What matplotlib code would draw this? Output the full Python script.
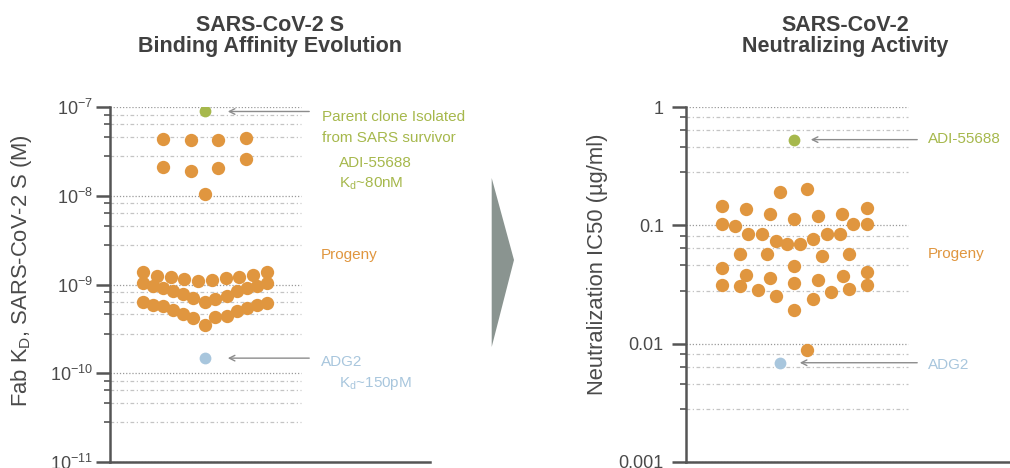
import matplotlib.pyplot as plt
import matplotlib.patches as patches
import matplotlib.ticker as ticker

plt.rcParams['font.family'] = 'Liberation Sans'
plt.rcParams['mathtext.fontset'] = 'custom'
plt.rcParams['mathtext.rm'] = 'Liberation Sans'
plt.rcParams['mathtext.it'] = 'Liberation Sans:italic'

W, H = 1010, 468

# ---- binding affinity, Fab KD (M) ----
parent_kd = 8.9e-8
adg2_kd = 1.48e-10
progeny_kd_x = [-4.2, -1.4, 1.3, 4.1,
                -4.2, -1.4, 1.3, 4.1,
                0.0,
                -6.2, -4.8, -3.4, -2.1, -0.7, 0.7, 2.1, 3.4, 4.8, 6.2,
                -6.2, -5.2, -4.2, -3.2, -2.2, -1.2, 0.0, 1.0, 2.2, 3.2, 4.2, 5.2, 6.2,
                -6.2, -5.2, -4.2, -3.2, -2.2, -1.2, 0.0, 1.0, 2.2, 3.2, 4.2, 5.2, 6.2]
progeny_kd = [4.4e-8, 4.26e-8, 4.26e-8, 4.5e-8,
              2.13e-8, 1.92e-8, 2.07e-8, 2.6e-8,
              1.05e-8,
              1.38e-9, 1.26e-9, 1.22e-9, 1.14e-9, 1.09e-9, 1.12e-9, 1.17e-9, 1.22e-9, 1.29e-9, 1.40e-9,
              1.04e-9, 0.97e-9, 0.92e-9, 0.84e-9, 0.79e-9, 0.71e-9, 0.63e-9, 0.68e-9, 0.75e-9, 0.84e-9, 0.92e-9, 0.97e-9, 1.04e-9,
              6.3e-10, 5.8e-10, 5.7e-10, 5.2e-10, 4.7e-10, 4.2e-10, 3.5e-10, 4.3e-10, 4.45e-10, 5.0e-10, 5.45e-10, 5.9e-10, 6.2e-10]

# ---- neutralization IC50 (ug/ml) ----
parent_ic50 = 0.53
parent_ic50_x = 0.0
adg2_ic50 = 0.0069
adg2_ic50_x = -1.4
progeny_ic50_x = [-7.2, -7.2, -7.2, -7.2, -5.9, -5.4, -5.4, -4.8, -4.8, -4.6,
                  -3.6, -3.2, -2.7, -2.4, -2.4, -1.8, -1.4, -1.8, -0.7,
                  0.0, 0.0, 0.0, 0.0, 0.6, 1.3, 1.3, 1.9, 1.9, 2.4, 2.4,
                  2.8, 3.3, 3.7, 4.8, 4.6, 4.9, 5.5, 5.5, 5.9, 7.3, 7.3, 7.3, 7.3]
progeny_ic50 = [0.145, 0.102, 0.0439, 0.0311, 0.0987, 0.0569, 0.0305, 0.138, 0.0383, 0.0839,
                0.0286, 0.0839, 0.0569, 0.124, 0.0361, 0.0251, 0.191, 0.0738, 0.069,
                0.114, 0.045, 0.0326, 0.0191, 0.070, 0.204, 0.00879, 0.077, 0.024, 0.119, 0.0343,
                0.0547, 0.085, 0.0273, 0.124, 0.085, 0.037, 0.0576, 0.0292, 0.102, 0.141, 0.102, 0.0403, 0.0311]

ORANGE = '#E0963F'
GREEN = '#A6B84C'
BLUE = '#A8C6DD'
AXIS = '#555555'
ARROW = '#8c8c8c'
MINOR_STEPS = [2.8, 4.6, 6.4, 8.2]


def fx(px):
    return px / W


def fy(py):
    return 1 - py / H


def style_axis(ax, decades, grid_frac, pad):
    ax.set_yscale('log')
    for side in ['top', 'right']:
        ax.spines[side].set_visible(False)
    for side in ['left', 'bottom']:
        ax.spines[side].set_color(AXIS)
        ax.spines[side].set_linewidth(1.8)
    ax.set_xticks([])
    majors = [10.0 ** d for d in decades]
    minors = [m * 10.0 ** d for d in decades[:-1] for m in MINOR_STEPS]
    ax.yaxis.set_major_locator(ticker.FixedLocator(majors))
    ax.yaxis.set_minor_locator(ticker.FixedLocator(minors))
    ax.yaxis.set_minor_formatter(ticker.NullFormatter())
    ax.tick_params(axis='y', which='major', length=10, width=1.8, color=AXIS,
                   labelsize=13, labelcolor='#4a4a4a', pad=pad)
    ax.tick_params(axis='y', which='minor', length=4, width=1.2, color=AXIS)
    ax.tick_params(axis='x', length=0)
    for v in majors:
        ax.axhline(v, xmin=0, xmax=grid_frac, color='#9a9a9a', lw=0.9, ls=(0, (1, 1.5)), zorder=0)
    for v in minors:
        ax.axhline(v, xmin=0, xmax=grid_frac, color='#c4c4c4', lw=0.9, ls=(0, (3, 2, 1, 2)), zorder=0)


fig = plt.figure(figsize=(W / 100, H / 100), dpi=100)

# ---- left panel ----
ax1 = fig.add_axes([fx(110), fy(462), 320 / W, 355 / H])
style_axis(ax1, [-11, -10, -9, -8, -7], (301 - 110) / 320, 2)
ax1.set_xlim(-9.5, 22.5)
ax1.set_ylim(1e-11, 1e-7)
ax1.scatter(progeny_kd_x, progeny_kd, s=92, color=ORANGE, linewidths=0, zorder=3)
ax1.scatter([0], [parent_kd], s=72, color=GREEN, linewidths=0, zorder=3)
ax1.scatter([0], [adg2_kd], s=72, color=BLUE, linewidths=0, zorder=3)
for v in [parent_kd, adg2_kd]:
    ax1.annotate('', xy=(2.0, v), xytext=(10.7, v),
                 arrowprops=dict(arrowstyle='->', color=ARROW, lw=1.0))

# ---- right panel ----
ax2 = fig.add_axes([fx(686), fy(462), 324 / W, 355 / H])
style_axis(ax2, [-3, -2, -1, 0], (908 - 686) / 324, 6)
ax2.set_xlim(-10.8, 21.6)
ax2.set_ylim(1e-3, 1)
ax2.yaxis.set_major_formatter(ticker.FuncFormatter(lambda v, p: '%g' % v))
ax2.scatter(progeny_ic50_x, progeny_ic50, s=92, color=ORANGE, linewidths=0, zorder=3)
ax2.scatter([parent_ic50_x], [parent_ic50], s=72, color=GREEN, linewidths=0, zorder=3)
ax2.scatter([adg2_ic50_x], [adg2_ic50], s=72, color=BLUE, linewidths=0, zorder=3)
ax2.annotate('', xy=(1.4, parent_ic50), xytext=(12.6, parent_ic50),
             arrowprops=dict(arrowstyle='->', color=ARROW, lw=1.0))
ax2.annotate('', xy=(0.3, adg2_ic50), xytext=(12.6, adg2_ic50),
             arrowprops=dict(arrowstyle='->', color=ARROW, lw=1.0))

# ---- titles and axis labels ----
title_kw = dict(ha='center', va='center', fontsize=15.5, fontweight='bold',
                color='#404040', linespacing=1.02)
fig.text(fx(270), fy(36), 'SARS-CoV-2 S\nBinding Affinity Evolution', **title_kw)
fig.text(fx(845), fy(36), 'SARS-CoV-2\nNeutralizing Activity', **title_kw)

label_kw = dict(ha='center', va='center', rotation=90, fontsize=15.8, color='#4a4a4a')
fig.text(fx(22), fy(271), r'Fab K$_\mathrm{D}$, SARS-CoV-2 S (M)', **label_kw)
fig.text(fx(598), fy(264), 'Neutralization IC50 (µg/ml)', **label_kw)

# ---- annotations ----
note_kw = dict(ha='left', va='center', fontsize=11)
fig.text(fx(322), fy(117), 'Parent clone Isolated', color=GREEN, **note_kw)
fig.text(fx(322), fy(138), 'from SARS survivor', color=GREEN, **note_kw)
fig.text(fx(339), fy(163), 'ADI-55688', color=GREEN, **note_kw)
fig.text(fx(339), fy(184), r'K$_\mathrm{d}$~80nM', color=GREEN, **note_kw)
fig.text(fx(321), fy(255), 'Progeny', color=ORANGE, **note_kw)
fig.text(fx(321), fy(362), 'ADG2', color=BLUE, **note_kw)
fig.text(fx(339), fy(383), r'K$_\mathrm{d}$~150pM', color=BLUE, **note_kw)
fig.text(fx(928), fy(139), 'ADI-55688', color=GREEN, **note_kw)
fig.text(fx(928), fy(254), 'Progeny', color=ORANGE, **note_kw)
fig.text(fx(928), fy(365), 'ADG2', color=BLUE, **note_kw)

# ---- big chevron between panels ----
chevron = patches.Polygon([(fx(491.7), fy(178)), (fx(514), fy(260)), (fx(491.7), fy(347))],
                          closed=True, facecolor='#8a9490', edgecolor='none',
                          transform=fig.transFigure)
fig.patches.append(chevron)

fig.savefig('out.png', dpi=100)
